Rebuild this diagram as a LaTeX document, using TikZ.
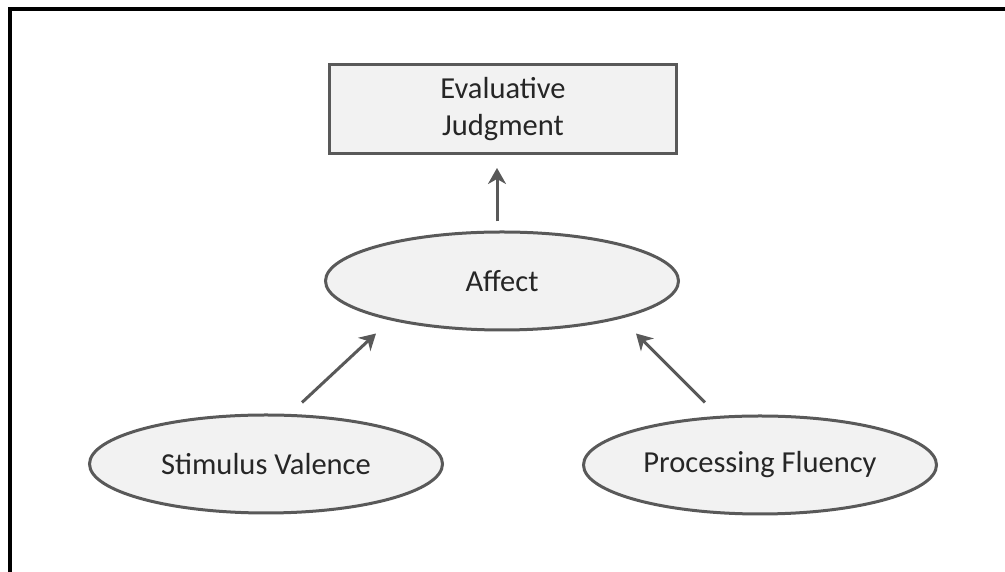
\documentclass[tikz,border=0pt]{standalone}
\usepackage{fontspec}
\setmainfont{Carlito}
\usetikzlibrary{shapes,arrows.meta,positioning}
\definecolor{boxfill}{HTML}{F2F2F2}
\definecolor{boxline}{HTML}{595959}
\definecolor{textgray}{HTML}{262626}
\tikzstyle{judgmentbox} = [rectangle, minimum width=347pt, minimum height=89pt, text centered, align=center, draw=boxline, line width=3pt, fill=boxfill, text=textgray, font=\fontsize{30.5}{37}\selectfont]
\tikzstyle{factor} = [ellipse, minimum width=353pt, minimum height=98pt, text centered, draw=boxline, line width=3pt, fill=boxfill, text=textgray, font=\fontsize{30.5}{37}\selectfont]
\tikzstyle{arrow} = [draw=boxline, line width=3pt, -{Stealth[length=16pt,width=18pt,inset=5pt]}]

\begin{document}
\begin{tikzpicture}[x=1pt,y=1pt,node distance=172pt]
\useasboundingbox (0,0) rectangle (1005,572);

% frame
\draw[line width=4pt] (9.5,0) -- (9.5,562.5) -- (1005,562.5);

\node (judgment) [judgmentbox] at (503,463) {Evaluative\\Judgment};

\node (affect) [factor, below of=judgment, xshift=-1pt] {Affect};

\node (stimulus) [factor, below of=affect, yshift=-11pt, xshift=-236pt] {Stimulus Valence};

\node (fluency) [factor, below of=affect, yshift=-12pt, xshift=258pt] {Processing Fluency};

\draw [arrow, shorten <=9pt, shorten >=13pt] ([xshift=-5pt]affect.north) -- ([xshift=-6pt]judgment.south);
\draw [arrow] ([xshift=36pt,yshift=11pt]stimulus.north) -- ([xshift=-126pt,yshift=-2pt]affect.south);
\draw [arrow] ([xshift=-55pt,yshift=12pt]fluency.north) -- ([xshift=134pt,yshift=-2pt]affect.south);
\end{tikzpicture}
\end{document}
